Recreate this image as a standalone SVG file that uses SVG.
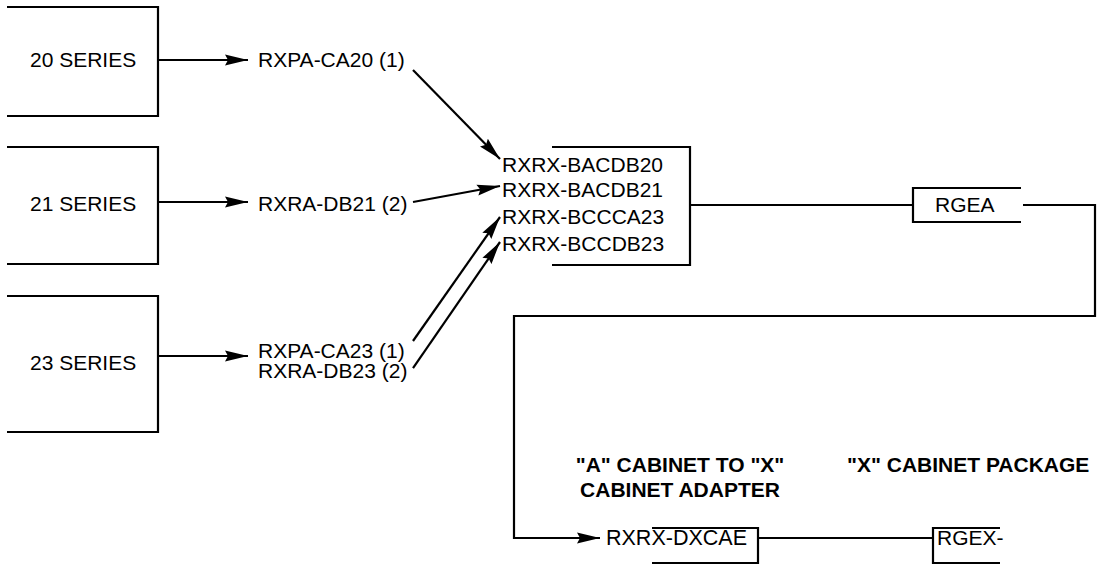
<svg xmlns="http://www.w3.org/2000/svg" width="1107" height="564" viewBox="0 0 1107 564">
<style>
.ln{fill:none;stroke:#000;stroke-width:2.2;}
.t{font-family:"Liberation Sans",Arial,sans-serif;font-size:21px;fill:#000;}
.b{font-family:"Liberation Sans",Arial,sans-serif;font-size:21px;font-weight:bold;fill:#000;}
</style>
<defs>
<marker id="ah" markerUnits="userSpaceOnUse" markerWidth="24" markerHeight="12" refX="23" refY="6" orient="auto" viewBox="0 0 24 12">
<path d="M0,0.5 L23,6 L0,11.5 L3,6 Z" fill="#000"/>
</marker>
</defs>
<rect width="1107" height="564" fill="#fff"/>
<g id="s20">
<path class="ln" d="M7,7 H158 V116 H7"/>
<text class="t" x="30" y="67">20 SERIES</text>
</g>
<g id="s21">
<path class="ln" d="M7,147 H158 V264 H7"/>
<text class="t" x="30" y="211">21 SERIES</text>
</g>
<g id="s23">
<path class="ln" d="M7,296 H158 V432 H7"/>
<text class="t" x="30" y="370">23 SERIES</text>
</g>
<g id="ca20"><text class="t" x="258" y="67">RXPA-CA20 (1)</text></g>
<g id="db21"><text class="t" x="258" y="211">RXRA-DB21 (2)</text></g>
<g id="x23">
<text class="t" x="258" y="358">RXPA-CA23 (1)</text>
<text class="t" x="258" y="378">RXRA-DB23 (2)</text>
</g>
<g id="rxrx">
<path class="ln" d="M552,147 H690 V265 H552"/>
<text class="t" x="502" y="172">RXRX-BACDB20</text>
<text class="t" x="502" y="197">RXRX-BACDB21</text>
<text class="t" x="502" y="224">RXRX-BCCCA23</text>
<text class="t" x="502" y="251">RXRX-BCCDB23</text>
</g>
<g id="rgea">
<path class="ln" d="M1021,188 H913 V222 H1021"/>
<text class="t" x="935" y="212">RGEA</text>
</g>
<g id="adapter">
<text class="b" x="680" y="472" text-anchor="middle">"A" CABINET TO "X"</text>
<text class="b" x="680" y="497" text-anchor="middle">CABINET ADAPTER</text>
<path class="ln" d="M652,528 H758 V563 H652"/>
<text class="t" x="606" y="545" style="font-size:21.5px">RXRX-DXCAE</text>
</g>
<g id="package">
<text class="b" x="847" y="472">"X" CABINET PACKAGE</text>
<path class="ln" d="M1000,528 H933 V563 H1000"/>
<text class="t" x="937" y="545">RGEX-</text>
</g>
<g id="connectors">
<path class="ln" d="M158,60 H248" marker-end="url(#ah)"/>
<path class="ln" d="M158,202 H248" marker-end="url(#ah)"/>
<path class="ln" d="M158,356 H248" marker-end="url(#ah)"/>
<path class="ln" d="M413,70 L500,159" marker-end="url(#ah)"/>
<path class="ln" d="M413,202 L500,186" marker-end="url(#ah)"/>
<path class="ln" d="M413,341 L500,217" marker-end="url(#ah)"/>
<path class="ln" d="M413,368 L500,242" marker-end="url(#ah)"/>
<path class="ln" d="M690,205 H913"/>
<path class="ln" d="M1023,205 H1095 V316 H514 V538 H600" marker-end="url(#ah)"/>
<path class="ln" d="M758,538 H933"/>
</g>
</svg>
